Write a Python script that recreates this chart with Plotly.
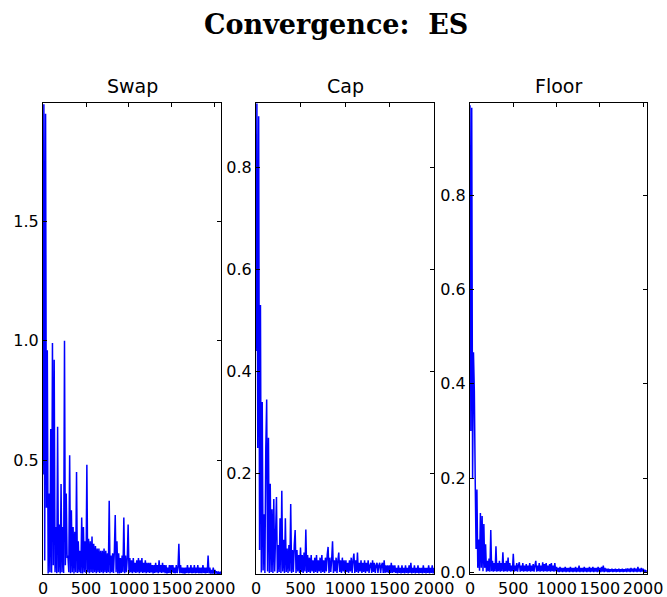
import plotly.graph_objects as go

iteration_step = 10

swap_error = [
    0.44, 1.99, 0.08, 1.95, 0.30, 0.96, 0.025, 0.36, 0.03, 0.63,
    0.028, 0.99, 0.06, 0.92, 0.03, 0.22, 0.026, 0.64, 0.03, 0.23,
    0.025, 0.40, 0.03, 0.22, 0.027, 1.00, 0.06, 0.36, 0.09, 0.10,
    0.03, 0.52, 0.026, 0.29, 0.03, 0.22, 0.025, 0.20, 0.03, 0.45,
    0.027, 0.16, 0.03, 0.12, 0.026, 0.26, 0.025, 0.22, 0.03, 0.16,
    0.027, 0.48, 0.03, 0.17, 0.026, 0.16, 0.03, 0.18, 0.027, 0.15,
    0.03, 0.14, 0.026, 0.13, 0.03, 0.13, 0.027, 0.12, 0.03, 0.12,
    0.026, 0.13, 0.03, 0.12, 0.027, 0.11, 0.03, 0.33, 0.026, 0.10,
    0.03, 0.11, 0.027, 0.12, 0.27, 0.03, 0.16, 0.025, 0.11, 0.025,
    0.09, 0.027, 0.10, 0.03, 0.26, 0.026, 0.10, 0.03, 0.09, 0.23,
    0.027, 0.09, 0.03, 0.08, 0.026, 0.09, 0.03, 0.07, 0.027, 0.08,
    0.03, 0.09, 0.026, 0.08, 0.03, 0.09, 0.027, 0.07, 0.03, 0.08,
    0.026, 0.07, 0.03, 0.07, 0.027, 0.07, 0.03, 0.06, 0.025, 0.06,
    0.027, 0.07, 0.03, 0.06, 0.026, 0.08, 0.03, 0.06, 0.027, 0.07,
    0.03, 0.06, 0.026, 0.06, 0.025, 0.05, 0.027, 0.06, 0.026, 0.06,
    0.03, 0.06, 0.027, 0.05, 0.026, 0.06, 0.027, 0.05, 0.15, 0.026,
    0.06, 0.027, 0.05, 0.026, 0.05, 0.025, 0.05, 0.027, 0.06, 0.026,
    0.05, 0.027, 0.06, 0.026, 0.05, 0.027, 0.06, 0.026, 0.05, 0.027,
    0.06, 0.026, 0.05, 0.027, 0.05, 0.026, 0.06, 0.027, 0.05, 0.026,
    0.05, 0.027, 0.10, 0.026, 0.05, 0.025, 0.04, 0.025, 0.05, 0.025,
    0.04, 0.025, 0.035, 0.024, 0.03, 0.024, 0.03, 0.024,
]

cap_error = [
    0.44, 0.925, 0.25, 0.90, 0.05, 0.53, 0.006, 0.34, 0.01, 0.12,
    0.005, 0.25, 0.345, 0.008, 0.27, 0.005, 0.18, 0.007, 0.13, 0.005,
    0.15, 0.008, 0.08, 0.154, 0.005, 0.06, 0.007, 0.112, 0.005, 0.166,
    0.008, 0.07, 0.005, 0.112, 0.007, 0.053, 0.005, 0.06, 0.008, 0.14,
    0.005, 0.05, 0.007, 0.06, 0.089, 0.005, 0.05, 0.008, 0.04, 0.005,
    0.055, 0.007, 0.04, 0.005, 0.045, 0.008, 0.09, 0.005, 0.04, 0.007,
    0.035, 0.005, 0.04, 0.008, 0.03, 0.005, 0.035, 0.007, 0.04, 0.005,
    0.03, 0.008, 0.035, 0.005, 0.04, 0.007, 0.03, 0.005, 0.035, 0.008,
    0.04, 0.056, 0.005, 0.035, 0.007, 0.03, 0.067, 0.005, 0.03, 0.008,
    0.035, 0.005, 0.03, 0.045, 0.007, 0.03, 0.005, 0.035, 0.008, 0.03,
    0.005, 0.03, 0.007, 0.025, 0.005, 0.03, 0.008, 0.035, 0.005, 0.03,
    0.043, 0.005, 0.03, 0.007, 0.045, 0.005, 0.025, 0.008, 0.03, 0.005,
    0.025, 0.007, 0.03, 0.005, 0.025, 0.008, 0.03, 0.005, 0.02, 0.025,
    0.005, 0.03, 0.007, 0.025, 0.005, 0.02, 0.025, 0.005, 0.02, 0.025,
    0.005, 0.02, 0.025, 0.005, 0.03, 0.005, 0.02, 0.006, 0.02, 0.005,
    0.02, 0.005, 0.025, 0.005, 0.02, 0.006, 0.02, 0.005, 0.015, 0.004,
    0.02, 0.005, 0.015, 0.004, 0.02, 0.005, 0.015, 0.004, 0.02, 0.005,
    0.015, 0.004, 0.02, 0.005, 0.025, 0.004, 0.015, 0.005, 0.02, 0.004,
    0.015, 0.005, 0.02, 0.004, 0.015, 0.005, 0.015, 0.004, 0.02, 0.005,
    0.015, 0.004, 0.015, 0.005, 0.02, 0.004, 0.015, 0.005, 0.02, 0.004,
    0.015,
]

floor_error = [
    0.99, 0.30, 0.985, 0.20, 0.467, 0.385, 0.20, 0.05, 0.176, 0.01,
    0.07, 0.004, 0.126, 0.01, 0.12, 0.003, 0.103, 0.01, 0.06, 0.002,
    0.025, 0.003, 0.03, 0.002, 0.09, 0.003, 0.025, 0.002, 0.02, 0.003,
    0.056, 0.002, 0.02, 0.003, 0.025, 0.002, 0.02, 0.003, 0.043, 0.002,
    0.02, 0.003, 0.025, 0.002, 0.032, 0.003, 0.02, 0.002, 0.015, 0.003,
    0.04, 0.002, 0.015, 0.003, 0.02, 0.002, 0.015, 0.022, 0.002, 0.015,
    0.003, 0.02, 0.002, 0.015, 0.003, 0.018, 0.002, 0.015, 0.003, 0.02,
    0.002, 0.015, 0.003, 0.018, 0.002, 0.015, 0.025, 0.002, 0.015, 0.003,
    0.02, 0.002, 0.015, 0.003, 0.022, 0.002, 0.018, 0.003, 0.02, 0.002,
    0.015, 0.003, 0.018, 0.002, 0.02, 0.003, 0.015, 0.002, 0.02, 0.003,
    0.012, 0.002, 0.01, 0.001, 0.012, 0.002, 0.01, 0.001, 0.01, 0.002,
    0.012, 0.001, 0.01, 0.002, 0.01, 0.001, 0.012, 0.002, 0.01, 0.001,
    0.01, 0.002, 0.012, 0.001, 0.01, 0.002, 0.015, 0.001, 0.01, 0.002,
    0.01, 0.001, 0.012, 0.002, 0.01, 0.001, 0.01, 0.002, 0.012, 0.001,
    0.01, 0.002, 0.012, 0.001, 0.01, 0.002, 0.01, 0.001, 0.012, 0.002,
    0.01, 0.001, 0.012, 0.002, 0.015, 0.001, 0.01, 0.002, 0.008, 0.001,
    0.008, 0.001, 0.007, 0.002, 0.008, 0.001, 0.007, 0.002, 0.008, 0.001,
    0.007, 0.002, 0.008, 0.001, 0.007, 0.002, 0.008, 0.001, 0.007, 0.002,
    0.008, 0.001, 0.009, 0.002, 0.008, 0.001, 0.01, 0.002, 0.008, 0.001,
    0.01, 0.002, 0.008, 0.001, 0.012, 0.002, 0.008, 0.001, 0.01, 0.002,
    0.008, 0.001, 0.006, 0.001, 0.005,
]

panel_titles = ["Swap", "Cap", "Floor"]
x_ticks = [0, 500, 1000, 1500, 2000]
swap_ticks = [0.5, 1.0, 1.5]
cap_ticks = [0.2, 0.4, 0.6, 0.8]
floor_ticks = [0.0, 0.2, 0.4, 0.6, 0.8]

# ---------------- figure ----------------
W, H = 667, 597
series = [swap_error, cap_error, floor_error]
yticks = [swap_ticks, cap_ticks, floor_ticks]
xranges = [[0, 2070], [0, 2000], [0, 2045]]
yranges = [[0.023, 1.995], [0.003, 0.926], [-0.003, 0.995]]
xdoms = [[43 / W, 221 / W], [256 / W, 434 / W], [470 / W, 647 / W]]
ydom = [1 - 574 / H, 1 - 103 / H]

fig = go.Figure()
tickfont = dict(family="DejaVu Sans", size=16, color="black")

for i, vals in enumerate(series):
    xs = [k * iteration_step for k in range(len(vals))]
    suffix = "" if i == 0 else str(i + 1)
    fig.add_trace(go.Scatter(
        x=xs, y=vals, mode="lines",
        line=dict(color="#0000ff", width=1.5, simplify=False),
        xaxis="x" + suffix, yaxis="y" + suffix, showlegend=False,
        hoverinfo="skip",
    ))
    common = dict(showline=True, linecolor="black", linewidth=1, mirror="allticks",
                  ticks="inside", ticklen=4, tickwidth=1, tickcolor="black",
                  showgrid=False, zeroline=False, tickfont=tickfont, automargin=False,
                  tickangle=0)
    fig.update_layout(**{
        "xaxis" + suffix: dict(domain=xdoms[i], range=xranges[i], tickvals=x_ticks,
                               ticktext=[str(t) for t in x_ticks],
                               anchor="y" + suffix, **common),
        "yaxis" + suffix: dict(domain=ydom, range=yranges[i], tickvals=yticks[i],
                               ticktext=["%.1f" % t for t in yticks[i]],
                               anchor="x" + suffix, **common),
    })
    fig.add_annotation(
        text=panel_titles[i], xref="paper", yref="paper",
        x=(xdoms[i][0] + xdoms[i][1]) / 2, y=ydom[1], xanchor="center", yanchor="bottom",
        yshift=4, showarrow=False,
        font=dict(family="DejaVu Sans", size=19, color="black"),
    )

fig.add_annotation(
    text="<b>Convergence:  ES</b>", xref="paper", yref="paper",
    x=336 / W, y=1 - 25 / H, xanchor="center", yanchor="middle", showarrow=False,
    font=dict(family="DejaVu Serif", size=27, color="black"),
)

fig.update_layout(
    width=W, height=H, margin=dict(l=0, r=0, t=0, b=0),
    paper_bgcolor="white", plot_bgcolor="white",
)

fig.write_html("out.html")
